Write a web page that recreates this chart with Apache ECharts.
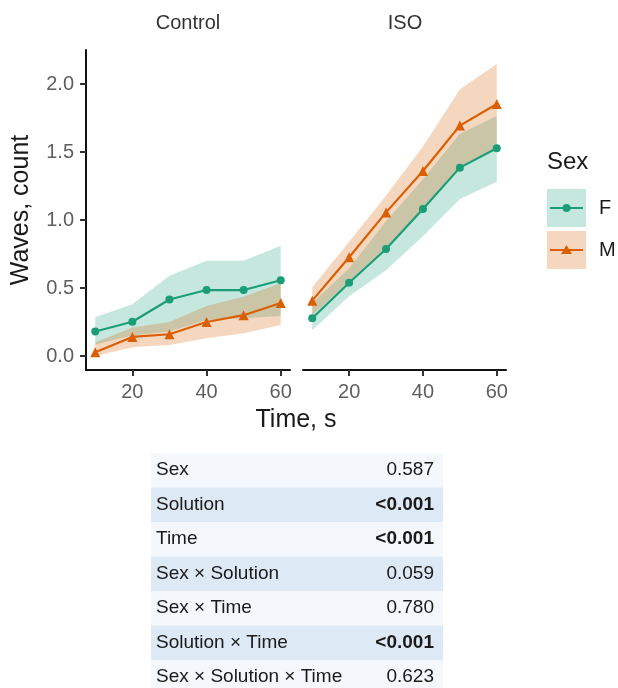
<!DOCTYPE html>
<html>
<head>
<meta charset="utf-8">
<script src="https://cdn.jsdelivr.net/npm/echarts@6/dist/echarts.min.js"></script>
<style>
html,body{margin:0;padding:0;background:#fff;}
#chart{width:618px;height:688px;}
</style>
</head>
<body>
<div id="chart"></div>
<script>
// ---- data ----
var time = [10, 20, 30, 40, 50, 60];
var panels = ["Control", "ISO"];
var sexes = ["F", "M"];

var controlF = [0.180, 0.252, 0.415, 0.485, 0.485, 0.557];
var controlFLow = [0.085, 0.150, 0.180, 0.265, 0.277, 0.294];
var controlFHigh = [0.285, 0.380, 0.590, 0.700, 0.700, 0.810];
var controlM = [0.027, 0.140, 0.160, 0.250, 0.300, 0.390];
var controlMLow = [0.000, 0.065, 0.080, 0.130, 0.167, 0.228];
var controlMHigh = [0.100, 0.210, 0.250, 0.368, 0.436, 0.534];

var isoF = [0.277, 0.539, 0.787, 1.081, 1.385, 1.527];
var isoFLow = [0.190, 0.440, 0.630, 0.880, 1.155, 1.282];
var isoFHigh = [0.390, 0.645, 0.990, 1.300, 1.635, 1.765];
var isoM = [0.407, 0.726, 1.056, 1.360, 1.694, 1.853];
var isoMLow = [0.300, 0.550, 0.800, 1.080, 1.390, 1.530];
var isoMHigh = [0.505, 0.840, 1.180, 1.540, 1.961, 2.147];

var xTicks = [20, 40, 60];
var yTicks = [0, 0.5, 1.0, 1.5, 2.0];

var terms = ["Sex", "Solution", "Time", "Sex \u00d7 Solution", "Sex \u00d7 Time", "Solution \u00d7 Time", "Sex \u00d7 Solution \u00d7 Time"];
var pvals = ["0.587", "<0.001", "<0.001", "0.059", "0.780", "<0.001", "0.623"];

// ---- style ----
var FONT = "Liberation Sans, Arial, Helvetica, sans-serif";
var colF = "#1B9E77", colM = "#D95F02";
var fillF = "rgba(27,158,119,0.25)", fillM = "rgba(217,95,2,0.25)";

var chart = echarts.init(document.getElementById("chart"), null, {renderer: "canvas"});

function pairs(ys) { return time.map(function (t, i) { return [t, ys[i]]; }); }

// ribbon drawn as one polygon through the axis scales
function bandSeries(idx, lo, hi, fill) {
  return {
    type: "custom", xAxisIndex: idx, yAxisIndex: idx, silent: true, z: 1,
    data: time.map(function (t, i) { return [t, lo[i], hi[i]]; }),
    encode: {x: 0, y: [1, 2]},
    renderItem: function (params, api) {
      if (params.dataIndexInside !== 0) return null;
      var n = params.dataInsideLength, top = [], bot = [];
      for (var i = 0; i < n; i++) {
        var x = api.value(0, i);
        top.push(api.coord([x, api.value(2, i)]));
        bot.unshift(api.coord([x, api.value(1, i)]));
      }
      return {type: "polygon", shape: {points: top.concat(bot)}, style: {fill: fill}};
    }
  };
}
function lineSeries(idx, name, ys, col, sym, size) {
  return {type: "line", name: name, xAxisIndex: idx, yAxisIndex: idx, data: pairs(ys),
    symbol: sym, symbolSize: size, showSymbol: true,
    itemStyle: {color: col}, lineStyle: {color: col, width: 2.2}, z: 5, silent: true};
}

var series = [
  bandSeries(0, controlFLow, controlFHigh, fillF),
  bandSeries(0, controlMLow, controlMHigh, fillM),
  bandSeries(1, isoFLow, isoFHigh, fillF),
  bandSeries(1, isoMLow, isoMHigh, fillM),
  lineSeries(0, "F", controlF, colF, "circle", 8),
  lineSeries(0, "M", controlM, colM, "triangle", 10),
  lineSeries(1, "F", isoF, colF, "circle", 8),
  lineSeries(1, "M", isoM, colM, "triangle", 10)
];

function xAxisDef(idx) {
  return {type: "value", gridIndex: idx, min: 7.5, max: 62.5,
    axisLine: {show: true, onZero: false, lineStyle: {color: "#111", width: 2}},
    axisTick: {show: true, customValues: xTicks, length: 6, lineStyle: {color: "#333", width: 2}},
    axisLabel: {show: true, customValues: xTicks, margin: 12, color: "#5e5e5e", fontSize: 20, fontFamily: FONT},
    splitLine: {show: false}};
}
function yAxisDef(idx, visible) {
  return {type: "value", gridIndex: idx, min: -0.103, max: 2.25,
    name: visible ? "Waves, count" : "", nameLocation: "middle", nameGap: 52,
    nameTextStyle: {color: "#1a1a1a", fontSize: 25, fontFamily: FONT},
    axisLine: {show: visible, onZero: false, lineStyle: {color: "#111", width: 2}},
    axisTick: {show: visible, customValues: yTicks, length: 6, lineStyle: {color: "#333", width: 2}},
    axisLabel: {show: visible, customValues: yTicks, margin: 12, color: "#5e5e5e", fontSize: 20, fontFamily: FONT,
      formatter: function (v) { return v.toFixed(1); }},
    splitLine: {show: false}};
}

var graphics = [];
// facet strip labels
graphics.push({type: "text", x: 188, y: 23, style: {text: panels[0], fill: "#333", font: "20px " + FONT, align: "center", verticalAlign: "middle"}});
graphics.push({type: "text", x: 405, y: 23, style: {text: panels[1], fill: "#333", font: "20px " + FONT, align: "center", verticalAlign: "middle"}});
// x axis title
graphics.push({type: "text", x: 296, y: 420, style: {text: "Time, s", fill: "#1a1a1a", font: "25px " + FONT, align: "center", verticalAlign: "middle"}});

// legend
graphics.push({type: "text", x: 547, y: 162, style: {text: "Sex", fill: "#1a1a1a", font: "24px " + FONT, align: "left", verticalAlign: "middle"}});
var legCols = [colF, colM], legFills = [fillF, fillM];
sexes.forEach(function (s, i) {
  var top = 189 + i * 42;
  var cy = top + 19;
  graphics.push({type: "rect", shape: {x: 547, y: top, width: 39, height: 38}, style: {fill: legFills[i]}});
  graphics.push({type: "line", shape: {x1: 550, y1: cy, x2: 583, y2: cy}, style: {stroke: legCols[i], lineWidth: 2.2}});
  if (i === 0) {
    graphics.push({type: "circle", shape: {cx: 566.5, cy: cy, r: 4}, style: {fill: legCols[i]}});
  } else {
    graphics.push({type: "polygon", shape: {points: [[566.5, cy - 5], [572, cy + 4], [561, cy + 4]]}, style: {fill: legCols[i]}});
  }
  graphics.push({type: "text", x: 599, y: cy, style: {text: s, fill: "#1a1a1a", font: "20px " + FONT, align: "left", verticalAlign: "middle"}});
});

// p-value table
var rowH = 34.5, tX = 151, tW = 292, tY = 453;
terms.forEach(function (t, i) {
  var y = tY + i * rowH;
  graphics.push({type: "rect", shape: {x: tX, y: y, width: tW, height: rowH}, style: {fill: i % 2 === 0 ? "#f4f8fc" : "#dde9f4"}});
  graphics.push({type: "text", x: tX + 5, y: y + rowH / 2, style: {text: t, fill: "#1a1a1a", font: "19px " + FONT, align: "left", verticalAlign: "middle"}});
  var bold = pvals[i].indexOf("<") === 0;
  graphics.push({type: "text", x: tX + tW - 9, y: y + rowH / 2, style: {text: pvals[i], fill: "#1a1a1a", font: (bold ? "bold " : "") + "19px " + FONT, align: "right", verticalAlign: "middle"}});
});

chart.setOption({
  animation: false,
  backgroundColor: "#fff",
  grid: [
    {left: 86, width: 204, top: 50, height: 320},
    {left: 303, width: 203, top: 50, height: 320}
  ],
  xAxis: [xAxisDef(0), xAxisDef(1)],
  yAxis: [yAxisDef(0, true), yAxisDef(1, false)],
  series: series,
  graphic: {elements: graphics}
});
</script>
</body>
</html>
